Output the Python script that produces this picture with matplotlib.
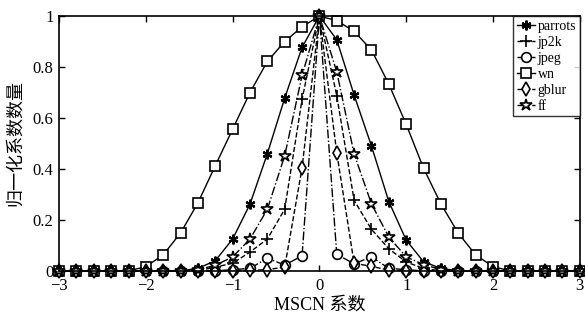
import matplotlib
matplotlib.use("Agg")
import matplotlib.pyplot as plt
import numpy as np

x = [-3.0, -2.8, -2.6, -2.4, -2.2, -2.0, -1.8, -1.6, -1.4, -1.2, -1.0, -0.8, -0.6, -0.4, -0.2,
     0.0, 0.2, 0.4, 0.6, 0.8, 1.0, 1.2, 1.4, 1.6, 1.8, 2.0, 2.2, 2.4, 2.6, 2.8, 3.0]

parrots = [0, 0, 0, 0, 0, 0, 0, 0, 0.01, 0.04, 0.125, 0.262, 0.46, 0.678, 0.877,
           1.0, 0.907, 0.69, 0.49, 0.272, 0.121, 0.036, 0.01, 0, 0, 0, 0, 0, 0, 0, 0]
jp2k = [0, 0, 0, 0, 0, 0, 0, 0, 0, 0.015, 0.03, 0.074, 0.125, 0.242, 0.673,
        1.0, 0.688, 0.277, 0.163, 0.087, 0.035, 0.01, 0, 0, 0, 0, 0, 0, 0, 0, 0]
jpeg = [0, 0, 0, 0, 0, 0, 0, 0, 0, 0, 0.005, 0.01, 0.05, 0.023, 0.059,
        1.0, 0.065, 0.028, 0.055, 0.01, 0.005, 0, 0, 0, 0, 0, 0, 0, 0, 0, 0]
wn = [0, 0, 0, 0, 0, 0.017, 0.063, 0.149, 0.267, 0.413, 0.556, 0.70, 0.822, 0.90, 0.958,
      1.0, 0.982, 0.94, 0.867, 0.733, 0.575, 0.403, 0.263, 0.148, 0.063, 0.017, 0, 0, 0, 0, 0]
gblur = [0, 0, 0, 0, 0, 0, 0, 0, 0, 0, 0, 0.002, 0.005, 0.015, 0.404,
         1.0, 0.463, 0.03, 0.018, 0.003, 0, 0, 0, 0, 0, 0, 0, 0, 0, 0, 0]
ff = [0, 0, 0, 0, 0, 0, 0, 0, 0.005, 0.022, 0.055, 0.125, 0.242, 0.452, 0.767,
      1.0, 0.781, 0.459, 0.263, 0.133, 0.055, 0.025, 0.005, 0, 0, 0, 0, 0, 0, 0, 0]

labels = ["parrots", "jp2k", "jpeg", "wn", "gblur", "ff"]
xticks = [-3, -2, -1, 0, 1, 2, 3]
yticks = [0, 0.2, 0.4, 0.6, 0.8, 1]
ytick_labels = ["0", "0.2", "0.4", "0.6", "0.8", "1"]

fam = ["Liberation Serif", "Noto Sans CJK SC"]
plt.rcParams["font.family"] = fam
plt.rcParams["axes.unicode_minus"] = True

fig = plt.figure(figsize=(5.85, 3.21), dpi=100)
ax = fig.add_axes([0.101, 0.156, 0.890, 0.794])

series = [parrots, jp2k, jpeg, wn, gblur, ff]
styles = [
    dict(ls="-", marker=(6, 2, 0), ms=7, mew=1.6),
    dict(ls="--", marker="+", ms=9, mew=1.2),
    dict(ls="-.", marker="o", ms=7, mew=1.2, mfc="white"),
    dict(ls="-", marker="s", ms=7, mew=1.2, mfc="white"),
    dict(ls="--", marker="d", ms=7.5, mew=1.2, mfc="white"),
    dict(ls="-.", marker="*", ms=9, mew=1.2, mfc="white"),
]
for y, lab, st in zip(series, labels, styles):
    ax.plot(x, y, color="black", lw=1.0, mec="black", label=lab, clip_on=False, **st)

ax.set_xlim(-3, 3)
ax.set_ylim(0, 1)
ax.set_xticks(xticks)
ax.set_yticks(yticks)
ax.set_yticklabels(ytick_labels)
ax.tick_params(direction="in", top=True, right=True, length=4, width=1,
               labelsize=12, pad=4)
ax.tick_params(axis="x", pad=5)
for s in ax.spines.values():
    s.set_linewidth(1.2)
    s.set_zorder(5)

ax.set_xlabel("MSCN 系数", fontsize=13, labelpad=2)
ax.set_ylabel("归一化系数数量", fontsize=13, labelpad=6)

leg = ax.legend(loc="upper right", borderaxespad=0, fontsize=10, handlelength=1.3,
                handletextpad=0.2, labelspacing=0.22, borderpad=0.25,
                fancybox=False, frameon=True, edgecolor="black")
leg.get_frame().set_linewidth(1.0)
leg.set_zorder(10)

fig.savefig("out.png", dpi=100)
